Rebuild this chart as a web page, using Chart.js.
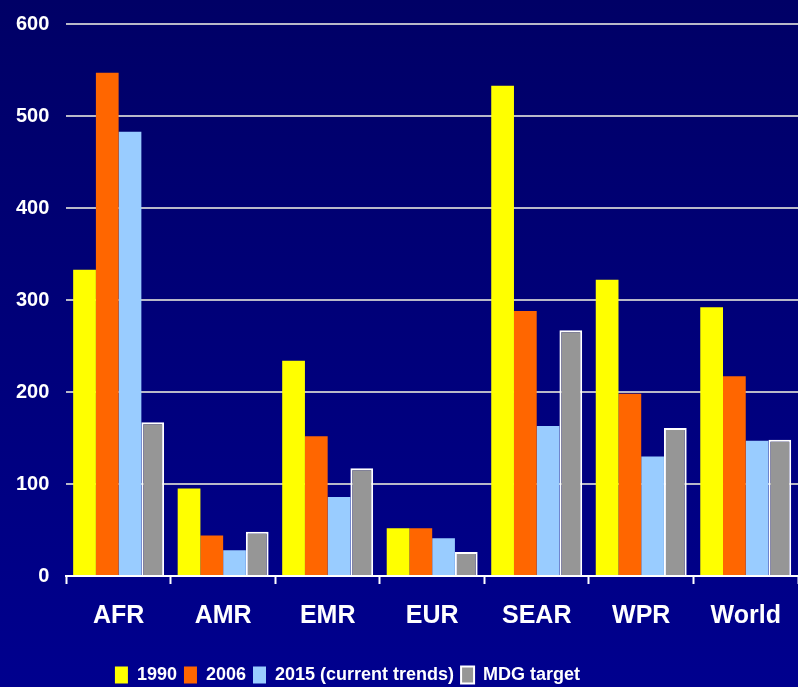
<!DOCTYPE html>
<html lang="en">
<head>
    <meta charset="UTF-8">
    <title>Regional estimates vs MDG target</title>
    <script src="https://cdn.jsdelivr.net/npm/chart.js"></script>
    <style>
        html, body { margin: 0; padding: 0; overflow: hidden; background: #00007a; }
        #wrap { width: 798px; height: 687px; }
    </style>
</head>
<body>
    <div id="wrap">
        <canvas id="myChart"></canvas>
    </div>

    <script>
        // Regions and series
        var regions = ['AFR', 'AMR', 'EMR', 'EUR', 'SEAR', 'WPR', 'World'];
        var v1990 = [333, 95, 234, 52, 533, 322, 292];
        var v2006 = [547, 44, 152, 52, 288, 198, 217];
        var v2015 = [483, 28, 86, 41, 163, 130, 147];
        var mdgTarget = [167, 48, 117, 26, 267, 161, 148];
        var yTicks = [0, 100, 200, 300, 400, 500, 600];

        Chart.defaults.font.family = '"Liberation Sans", Arial, sans-serif';
        Chart.defaults.font.weight = 'bold';
        Chart.defaults.color = '#ffffff';

        // Navy gradient behind everything
        var bgPlugin = {
            id: 'bg',
            beforeDraw: function (chart) {
                var c = chart.ctx;
                var g = c.createLinearGradient(0, 0, 0, chart.height);
                g.addColorStop(0, '#000066');
                g.addColorStop(1, '#00008e');
                c.save();
                c.fillStyle = g;
                c.fillRect(0, 0, chart.width, chart.height);
                c.restore();
            }
        };

        // Legend row sits a bit left of centre
        var legendShift = {
            id: 'legendShift',
            afterLayout: function (chart) {
                if (chart.legend) chart.legend.right -= 102;
            }
        };

        function series(label, values, fill, border) {
            return {
                label: label,
                data: values,
                backgroundColor: fill,
                borderColor: border || fill,
                borderWidth: border ? 2 : 0,
                categoryPercentage: 0.87,
                barPercentage: 1.0
            };
        }

        var ctx = document.getElementById('myChart').getContext('2d');
        var myChart = new Chart(ctx, {
            type: 'bar',
            data: {
                labels: regions,
                datasets: [
                    series('1990', v1990, '#ffff00'),
                    series('2006', v2006, '#ff6600'),
                    series('2015 (current trends)', v2015, '#99ccff'),
                    series('MDG target', mdgTarget, '#969696', '#ffffff')
                ]
            },
            options: {
                responsive: true,
                maintainAspectRatio: false,
                animation: false,
                layout: { padding: { left: -1, right: 0, top: 24, bottom: -7 } },
                plugins: {
                    tooltip: { enabled: false },
                    legend: {
                        position: 'bottom',
                        labels: {
                            color: '#ffffff',
                            boxWidth: 13,
                            boxHeight: 17,
                            padding: 7,
                            font: { size: 18, weight: 'bold' }
                        }
                    }
                },
                scales: {
                    x: {
                        grid: {
                            offset: true,
                            drawOnChartArea: false,
                            drawTicks: true,
                            tickLength: 8,
                            tickWidth: 2,
                            tickColor: '#ffffff'
                        },
                        border: { display: true, color: '#ffffff', width: 2 },
                        ticks: { color: '#ffffff', padding: 17, font: { size: 25, weight: 'bold' } },
                        afterFit: function (axis) { axis.height += 11; }
                    },
                    y: {
                        min: 0,
                        max: 600,
                        afterBuildTicks: function (axis) {
                            axis.ticks = yTicks.map(function (v) { return { value: v }; });
                        },
                        afterFit: function (axis) { axis.paddingTop = 0; },
                        grid: { color: '#b8b8c8', lineWidth: 2, drawTicks: false },
                        border: { display: false },
                        ticks: { color: '#ffffff', padding: 17, font: { size: 20, weight: 'bold' } }
                    }
                }
            },
            plugins: [bgPlugin, legendShift]
        });
    </script>
</body>
</html>
